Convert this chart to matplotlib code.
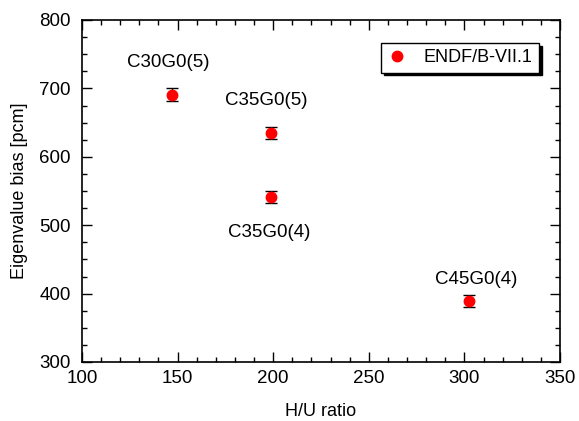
import matplotlib
matplotlib.use("Agg")
import matplotlib.pyplot as plt
from matplotlib.ticker import MultipleLocator
from matplotlib.lines import Line2D

plt.rcParams['font.family'] = ['Liberation Sans', 'DejaVu Sans']

hu_ratio = [147, 199, 199, 302.5]
bias = [691, 635, 541, 389]
err = [9, 9, 9, 9]
labels = ["C30G0(5)", "C35G0(5)", "C35G0(4)", "C45G0(4)"]
label_pos = [(145.2, 738), (196.5, 683), (198, 489), (306.3, 421)]

fig = plt.figure(figsize=(5.79, 4.21), dpi=100)
ax = fig.add_axes([82/579, 1-362/421, (560-82)/579, (362-20)/421])

ax.errorbar(hu_ratio, bias, yerr=err, fmt='o', color='red', ms=7.5,
            ecolor='black', elinewidth=1, capsize=4, capthick=1,
            label='ENDF/B-VII.1', zorder=3)

for t, (x, y) in zip(labels, label_pos):
    ax.text(x, y, t, ha='center', va='center', fontsize=13.5)

ax.set_xlim(100, 350)
ax.set_ylim(300, 800)
ax.xaxis.set_major_locator(MultipleLocator(50))
ax.xaxis.set_minor_locator(MultipleLocator(10))
ax.yaxis.set_major_locator(MultipleLocator(100))
ax.yaxis.set_minor_locator(MultipleLocator(25))
ax.tick_params(which='both', direction='in', top=True, right=True, labelsize=13.5, width=1)
ax.tick_params(which='major', length=7)
ax.tick_params(which='minor', length=3.8)
ax.tick_params(axis='x', which='major', pad=6)
ax.tick_params(axis='y', which='major', pad=8)
for s in ax.spines.values():
    s.set_linewidth(1.2)

ax.set_xlabel('H/U ratio', fontsize=13, labelpad=11)
ax.set_ylabel('Eigenvalue bias [pcm]', fontsize=13, labelpad=8)

h = Line2D([], [], marker='o', color='red', ls='none', ms=7.5)
leg = ax.legend([h], ['ENDF/B-VII.1'], loc='upper right', bbox_to_anchor=(0.956, 0.933),
                borderaxespad=0, fancybox=False, shadow={'color': 'black', 'alpha': 1},
                framealpha=1, edgecolor='black', fontsize=13, handletextpad=1.0,
                borderpad=0.35, handlelength=1.0)
leg.get_frame().set_linewidth(1)

fig.savefig('out.png', dpi=100)
